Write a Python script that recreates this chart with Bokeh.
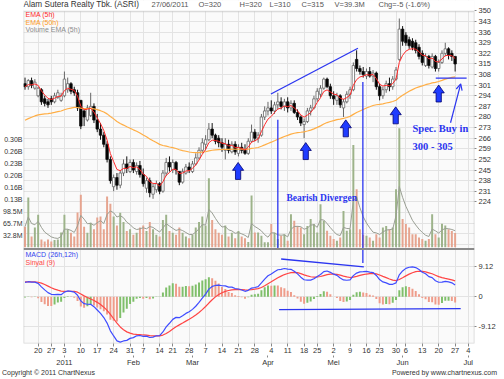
import pandas as pd
from bokeh.plotting import figure
from bokeh.layouts import column
from bokeh.models import (Range1d, LinearAxis, FixedTicker, Label, Span, Arrow, Div,
                          OpenHead, Grid, ColumnDataSource, BoxAnnotation)
from bokeh.embed import file_html
from bokeh.resources import INLINE

# ---------------- calendar (IDX trading days) ----------------
HOLIDAYS = ["2010-12-24", "2010-12-31", "2011-02-03", "2011-02-15", "2011-04-22",
            "2011-05-17", "2011-06-02", "2011-06-03", "2011-06-29"]
cal = [d.strftime("%Y-%m-%d") for d in pd.bdate_range("2010-12-14", "2011-07-05")
       if d.strftime("%Y-%m-%d") not in HOLIDAYS]
POS = {d: k - 4 for k, d in enumerate(cal)}   # 20 Dec 2010 = 0

WEEK_DATES = ["2010-12-20", "2010-12-27", "2011-01-03", "2011-01-10", "2011-01-17",
              "2011-01-24", "2011-01-31", "2011-02-07", "2011-02-14", "2011-02-21",
              "2011-02-28", "2011-03-07", "2011-03-14", "2011-03-21", "2011-03-28",
              "2011-04-04", "2011-04-11", "2011-04-18", "2011-04-25", "2011-05-02",
              "2011-05-09", "2011-05-16", "2011-05-23", "2011-05-30", "2011-06-06",
              "2011-06-13", "2011-06-20", "2011-06-27", "2011-07-04"]
WEEK_LABELS = ["20", "27", "3", "10", "17", "24", "31", "7", "14", "21", "28", "7", "14",
               "21", "28", "4", "11", "18", "25", "2", "9", "16", "23", "30", "6", "13",
               "20", "27", "4"]
MONTH_DATES = ["2011-01-03", "2011-02-01", "2011-03-01", "2011-04-01", "2011-05-02",
               "2011-06-01", "2011-07-04"]
MONTH_LABELS = ["2011", "Feb", "Mar", "Apr", "Mei", "Jun", "Jul"]

# ---------------- daily data 14 Dec 2010 .. 27 Jun 2011 ----------------
OPEN = [302, 300, 304, 299, 294, 298, 292, 290, 292, 290, 293, 291, 294, 298, 302, 298, 296, 291,
        284, 278, 281, 287, 278, 272, 268, 262, 252, 234, 240, 235, 243, 249, 244, 250, 244, 248,
        242, 233, 238, 229, 232, 236, 231, 243, 250, 245, 250, 244, 237, 243, 247, 244, 249, 253,
        258, 262, 265, 272, 268, 266, 263, 258, 262, 257, 262, 256, 260, 258, 256, 264, 270, 266,
        268, 280, 284, 286, 284, 288, 290, 287, 290, 286, 289, 283, 280, 275, 277, 284, 286, 292,
        295, 299, 305, 300, 294, 291, 294, 286, 290, 295, 298, 318, 312, 310, 307, 310, 307, 309,
        300, 294, 298, 302, 300, 305, 318, 338, 334, 331, 330, 329, 326, 322, 314, 320, 313, 320,
        312, 316, 322, 325, 322, 320]
HIGH = [306, 305, 306, 305, 300, 299, 294, 292, 294, 296, 298, 296, 310, 306, 303, 300, 298, 291,
        285, 288, 296, 289, 282, 276, 270, 264, 254, 242, 243, 245, 252, 254, 252, 252, 250, 251,
        246, 240, 240, 236, 238, 237, 245, 253, 254, 252, 251, 244, 246, 249, 250, 251, 256, 260,
        266, 268, 276, 276, 269, 268, 266, 266, 265, 264, 264, 262, 263, 262, 266, 275, 272, 270,
        282, 287, 290, 291, 290, 296, 293, 292, 293, 291, 291, 285, 281, 279, 286, 288, 294, 299,
        301, 306, 306, 302, 297, 296, 295, 292, 297, 300, 316, 324, 314, 313, 312, 313, 311, 310,
        302, 300, 304, 306, 307, 313, 345, 340, 336, 333, 332, 331, 328, 324, 322, 321, 322, 321,
        318, 324, 329, 326, 324, 320]
LOW = [298, 298, 299, 298, 293, 288, 287, 286, 288, 289, 292, 290, 293, 296, 295, 294, 284, 272,
       274, 277, 280, 276, 270, 265, 260, 250, 236, 231, 232, 233, 241, 243, 243, 243, 242, 240,
       234, 230, 227, 226, 230, 229, 230, 241, 244, 243, 242, 235, 236, 242, 243, 243, 248, 252,
       256, 258, 264, 266, 262, 260, 257, 252, 256, 256, 255, 254, 256, 255, 255, 263, 264, 263,
       267, 278, 281, 282, 282, 285, 285, 284, 283, 284, 282, 278, 274, 266, 276, 281, 285, 290,
       293, 298, 299, 292, 288, 288, 286, 280, 289, 292, 297, 310, 308, 306, 305, 306, 303, 298,
       291, 292, 296, 297, 298, 304, 317, 327, 327, 325, 324, 322, 318, 314, 313, 312, 312, 310,
       310, 315, 320, 318, 317, 310]
CLOSE = [300, 304, 301, 303, 299, 290, 289, 288, 290, 294, 296, 294, 305, 302, 297, 296, 286, 274,
         280, 286, 287, 278, 272, 268, 262, 252, 238, 240, 235, 243, 249, 246, 250, 245, 248, 242,
         236, 238, 230, 234, 236, 231, 243, 250, 247, 250, 245, 237, 244, 247, 245, 249, 253, 258,
         263, 265, 272, 268, 264, 263, 260, 262, 258, 262, 257, 260, 258, 256, 264, 270, 266, 268,
         280, 284, 286, 284, 288, 290, 287, 290, 286, 289, 283, 280, 276, 277, 284, 286, 292, 297,
         299, 305, 300, 294, 292, 294, 288, 290, 295, 298, 314, 312, 310, 308, 310, 307, 309, 300,
         294, 298, 302, 300, 305, 311, 338, 330, 329, 327, 326, 324, 320, 316, 320, 314, 320, 312,
         316, 322, 325, 321, 320, 315]
VOLUME_M = [57, 137, 30, 55, 90, 22, 16, 22, 16, 20, 22, 41, 90, 50, 40, 30, 96, 145, 57, 40, 68,
            50, 82, 85, 50, 140, 120, 85, 60, 95, 70, 45, 50, 35, 40, 55, 60, 45, 70, 50, 35, 30,
            75, 90, 45, 40, 35, 55, 40, 30, 25, 35, 55, 70, 85, 60, 190, 75, 50, 40, 35, 60, 30,
            40, 25, 45, 30, 25, 15, 143, 41, 41, 32, 14, 14, 64, 40, 23, 32, 36, 18, 91, 73, 59,
            55, 36, 59, 78, 64, 41, 119, 73, 46, 32, 23, 18, 27, 100, 46, 50, 282, 160, 50, 35,
            32, 27, 18, 36, 27, 55, 59, 50, 55, 160, 328, 78, 64, 55, 36, 36, 27, 23, 18, 23, 91,
            36, 27, 65, 60, 50, 45, 39.3]

# indicator seeds (values read at the left edge of the chart)
EMA50_START = 277.0
EMA12_START = 297.0
EMA26_START = 292.5
SIGNAL_START = 4.6

PRICE_TICKS = list(range(224, 351, 7))
MACD_TICKS = [9.12, 0.0, -9.12]
MACD_TICK_LABELS = ["9.12", "0", "-9.12"]
VOL_UNIT = 32_830_000
VOL_TICK_LABELS = ["32.8M", "65.7M", "98.5M", "0.13B", "0.16B", "0.20B", "0.23B", "0.26B", "0.30B"]

# annotations drawn on the chart (index, price / macd units)
UP_ARROW_TIPS = [(60.9, 250.0), (81.5, 263.1), (93.7, 278.1), (108.9, 286.7), (122.0, 301.1)]
PRICE_LINES = [(70.9, 295.2, 97.4, 325.4), (73.0, 278.1, 73.0, 193.5),
               (98.9, 303.1, 98.9, 183.7), (121.1, 305.7, 130.5, 305.7)]
MACD_LINES = [(74.0, 11.55, 99.2, 9.12), (73.4, -3.95, 128.7, -3.65)]

# ---------------- derived series ----------------
def ema(vals, n, seed=None):
    a = 2.0 / (n + 1)
    e = vals[0] if seed is None else seed
    out = []
    for v in vals:
        e = e + a * (v - e)
        out.append(e)
    return out

N = len(CLOSE)
X = list(range(-4, -4 + N))
VOL = [v * 1e6 for v in VOLUME_M]
ema5 = ema(CLOSE, 5)
ema50 = ema(CLOSE, 50, EMA50_START)
vol_ema = ema(VOL, 5)
e12 = ema(CLOSE, 12, EMA12_START)
e26 = ema(CLOSE, 26, EMA26_START)
macd = [a - b for a, b in zip(e12, e26)]
signal = ema(macd, 9, SIGNAL_START)
hist = [m - s for m, s in zip(macd, signal)]

up = [c >= o for o, c in zip(OPEN, CLOSE)]
src = ColumnDataSource(dict(
    x=X, o=OPEN, h=HIGH, l=LOW, c=CLOSE,
    top=[max(o, c) for o, c in zip(OPEN, CLOSE)],
    bot=[min(o, c) for o, c in zip(OPEN, CLOSE)],
    body=["white" if u else "black" for u in up],
    edge=["#666666" if u else "#111111" for u in up],
    vol=VOL, volc=["#9db38a" if u else "#e6a48f" for u in up],
    ema5=ema5, ema50=ema50, vema=vol_ema, macd=macd, signal=signal, hist=hist,
    histc=["#7fbf6a" if (i == 0 or hist[i] >= hist[i - 1]) else "#ef9c8a" for i in range(N)],
))

# ---------------- figure / scales ----------------
# frame covers canvas y 0..345 (title strip on top); panels: price 11..250, macd 250..345
FL, FR, FB = 22, 474, 345
FIG_H = 369
PANEL_TOP_Y = 11
P_TOP, P_BOT = 356.89, 130.5
M_TOP, M_BOT = 90.59, -14.29
V_TOP, V_BOT = 679.3e6, -264.5e6
HS = 1.4

def y_to_price(ypix):
    return P_TOP - ypix / FB * (P_TOP - P_BOT)

p = figure(width=504, height=FIG_H, output_backend="svg", toolbar_location=None,
           x_range=Range1d(-4.46, 132.9), y_range=Range1d(P_BOT, P_TOP),
           x_axis_location=None, y_axis_location=None,
           min_border_left=FL, min_border_right=504 - FR, min_border_top=0,
           min_border_bottom=FIG_H - FB)
p.extra_y_ranges = {"vol": Range1d(V_BOT, V_TOP), "macd": Range1d(M_BOT, M_TOP),
                    "hist": Range1d(M_BOT / HS, M_TOP / HS)}
p.background_fill_color = "#fafafa"
p.border_fill_color = "white"
p.outline_line_color = None
p.xgrid.visible = False
p.ygrid.visible = False

GRID = "#e3e3e3"
week_x = [POS[d] for d in WEEK_DATES]
month_x = [POS[d] for d in MONTH_DATES]
p.add_layout(Grid(dimension=0, ticker=FixedTicker(ticks=week_x), grid_line_color=GRID))
p.add_layout(Grid(dimension=1, ticker=FixedTicker(ticks=list(range(196, 351, 7))),
                  grid_line_color=GRID))
p.add_layout(Grid(dimension=1, ticker=FixedTicker(ticks=MACD_TICKS), y_range_name="macd",
                  grid_line_color=GRID))

FONT = "Liberation Sans"

def style_axis(ax, size="7.5px"):
    ax.axis_line_color = None
    ax.minor_tick_line_color = None
    ax.major_label_text_font = FONT
    ax.major_label_text_font_size = size
    ax.major_label_text_color = "#333333"

def macd_to_price(m):
    return P_BOT + (m - M_BOT) / (M_TOP - M_BOT) * (P_TOP - P_BOT)

r_ticks = PRICE_TICKS + [round(macd_to_price(m), 4) for m in MACD_TICKS]
r_over = {t: str(t) for t in PRICE_TICKS}
for m, lab in zip(MACD_TICKS, MACD_TICK_LABELS):
    r_over[round(macd_to_price(m), 4)] = lab
ax_r = LinearAxis(ticker=FixedTicker(ticks=r_ticks), major_label_overrides=r_over,
                  major_tick_out=2, major_tick_in=0, major_label_standoff=2,
                  major_tick_line_color="#888888")
style_axis(ax_r)
p.add_layout(ax_r, "right")

v_ticks = [VOL_UNIT * k for k in range(1, 10)]
ax_l = LinearAxis(y_range_name="vol", ticker=FixedTicker(ticks=v_ticks),
                  major_label_overrides={t: s for t, s in zip(v_ticks, VOL_TICK_LABELS)},
                  major_tick_out=0, major_tick_in=0, major_label_standoff=1,
                  major_tick_line_color=None)
style_axis(ax_l, "7px")
p.add_layout(ax_l, "left")

ax_w = LinearAxis(ticker=FixedTicker(ticks=week_x),
                  major_label_overrides={t: s for t, s in zip(week_x, WEEK_LABELS)},
                  major_tick_out=3, major_tick_in=0, major_label_standoff=1,
                  major_tick_line_color="#888888", major_label_text_align="left")
style_axis(ax_w, "7.5px")
p.add_layout(ax_w, "below")
ax_m = LinearAxis(ticker=FixedTicker(ticks=month_x),
                  major_label_overrides={t: s for t, s in zip(month_x, MONTH_LABELS)},
                  major_tick_out=2, major_tick_in=0, major_label_standoff=0,
                  major_tick_line_color="#888888", major_label_text_align="left")
style_axis(ax_m, "7.5px")
p.add_layout(ax_m, "below")

# ---------------- marks ----------------
p.vbar(x="x", top="vol", bottom=0, width=0.6, source=src, y_range_name="vol",
       fill_color="volc", line_color=None)
p.line(x="x", y="vema", source=src, y_range_name="vol", line_color="#9a9f94", line_width=1)

p.segment(x0="x", y0="l", x1="x", y1="h", source=src, line_color="edge", line_width=1)
p.vbar(x="x", top="top", bottom="bot", width=0.75, source=src, fill_color="body",
       line_color="edge", line_width=0.8)
p.line(x="x", y="ema50", source=src, line_color="#ffae45", line_width=1.2)
p.line(x="x", y="ema5", source=src, line_color="#ff2a2a", line_width=1)

p.vbar(x="x", top="hist", bottom=0, width=0.6, source=src, y_range_name="hist",
       fill_color="histc", line_color=None)
p.line(x="x", y="signal", source=src, y_range_name="macd", line_color="#ff4545", line_width=1.2)
p.line(x="x", y="macd", source=src, y_range_name="macd", line_color="#3f4cff", line_width=1.2)

BLUE = "#2b35f0"
p.segment(x0=[l[0] for l in PRICE_LINES], y0=[l[1] for l in PRICE_LINES],
          x1=[l[2] for l in PRICE_LINES], y1=[l[3] for l in PRICE_LINES],
          line_color=BLUE, line_width=1.3)
p.segment(x0=[l[0] for l in MACD_LINES], y0=[l[1] for l in MACD_LINES],
          x1=[l[2] for l in MACD_LINES], y1=[l[3] for l in MACD_LINES],
          line_color=BLUE, line_width=1.3, y_range_name="macd")
p.add_layout(Arrow(end=OpenHead(size=6, line_color=BLUE, line_width=1.2),
                   x_start=125.6, y_start=276.2, x_end=128.7, y_end=301.8,
                   line_color=BLUE, line_width=1.2))

xs, ys = [], []
for (ax0, ay0) in UP_ARROW_TIPS:
    xs.append([ax0, ax0 + 1.7, ax0 + 0.8, ax0 + 0.8, ax0 - 0.8, ax0 - 0.8, ax0 - 1.7])
    ys.append([ay0, ay0 - 5.2, ay0 - 5.2, ay0 - 11.2, ay0 - 11.2, ay0 - 5.2, ay0 - 5.2])
p.patches(xs, ys, fill_color="#1f3cff", line_color="#000070", line_width=0.8)

# title strip (white) and panel borders
p_top_line = y_to_price(PANEL_TOP_Y)
p.add_layout(BoxAnnotation(bottom=p_top_line, fill_color="white", fill_alpha=1.0,
                           line_color=None))
p.add_layout(BoxAnnotation(top=p_top_line, fill_alpha=0.0, line_color="#8a8a8a",
                           line_width=1.6))
p.add_layout(Span(location=y_to_price(250), dimension="width", line_color="#8a8a8a",
                  line_width=2))

# ---------------- texts ----------------
def add_text(text, cx, cy, size, color, font=FONT, style="normal", align="left"):
    p.add_layout(Label(x=cx - FL, y=FB - cy, x_units="screen", y_units="screen", text=text,
                       text_font=font, text_font_size=f"{size}px", text_color=color,
                       text_font_style=style, text_align=align, text_baseline="middle"))

add_text("Alam Sutera Realty Tbk. (ASRI)", 22, 6, 8.2, "#333333")
for t, cx in [("27/06/2011", 150), ("O=320", 197), ("H=320", 238), ("L=310", 268),
              ("C=315", 300), ("V=39.3M", 333), ("Chg=-5 (-1.6%)", 377)]:
    add_text(t, cx, 6, 7.5, "#555555")
add_text("EMA (5h)", 24, 16, 7, "#ff2a2a")
add_text("EMA (50h)", 24, 23.5, 7, "#ff9c1f")
add_text("Volume EMA (5h)", 24, 31, 7, "#8c8c8c")
add_text("MACD (26h,12h)", 24, 256, 7, "#3344ee")
add_text("Sinyal (9)", 24, 263.5, 7, "#ff4545")
add_text("Bearish Divergen", 285, 199, 9.5, BLUE, font="Liberation Serif", style="bold")
add_text("Spec. Buy in", 411, 130, 10.5, BLUE, font="Liberation Serif", style="bold")
add_text("300 - 305", 411, 148, 10.5, BLUE, font="Liberation Serif", style="bold")

footer = Div(text=(
    '<div style="position:relative;width:504px;height:10px;font-family:\'Liberation Sans\';'
    'font-size:7px;color:#333333;line-height:8px">'
    '<span style="position:absolute;left:2px;top:-2px;white-space:nowrap">'
    'Copyright \u00a9 2011 ChartNexus</span>'
    '<span style="position:absolute;right:7px;top:-2px;white-space:nowrap">'
    'Powered by www.chartnexus.com</span></div>'),
    width=504, height=379 - FIG_H, margin=0)

layout = column(p, footer, spacing=0)
open("out.html", "w").write(file_html(layout, INLINE))
